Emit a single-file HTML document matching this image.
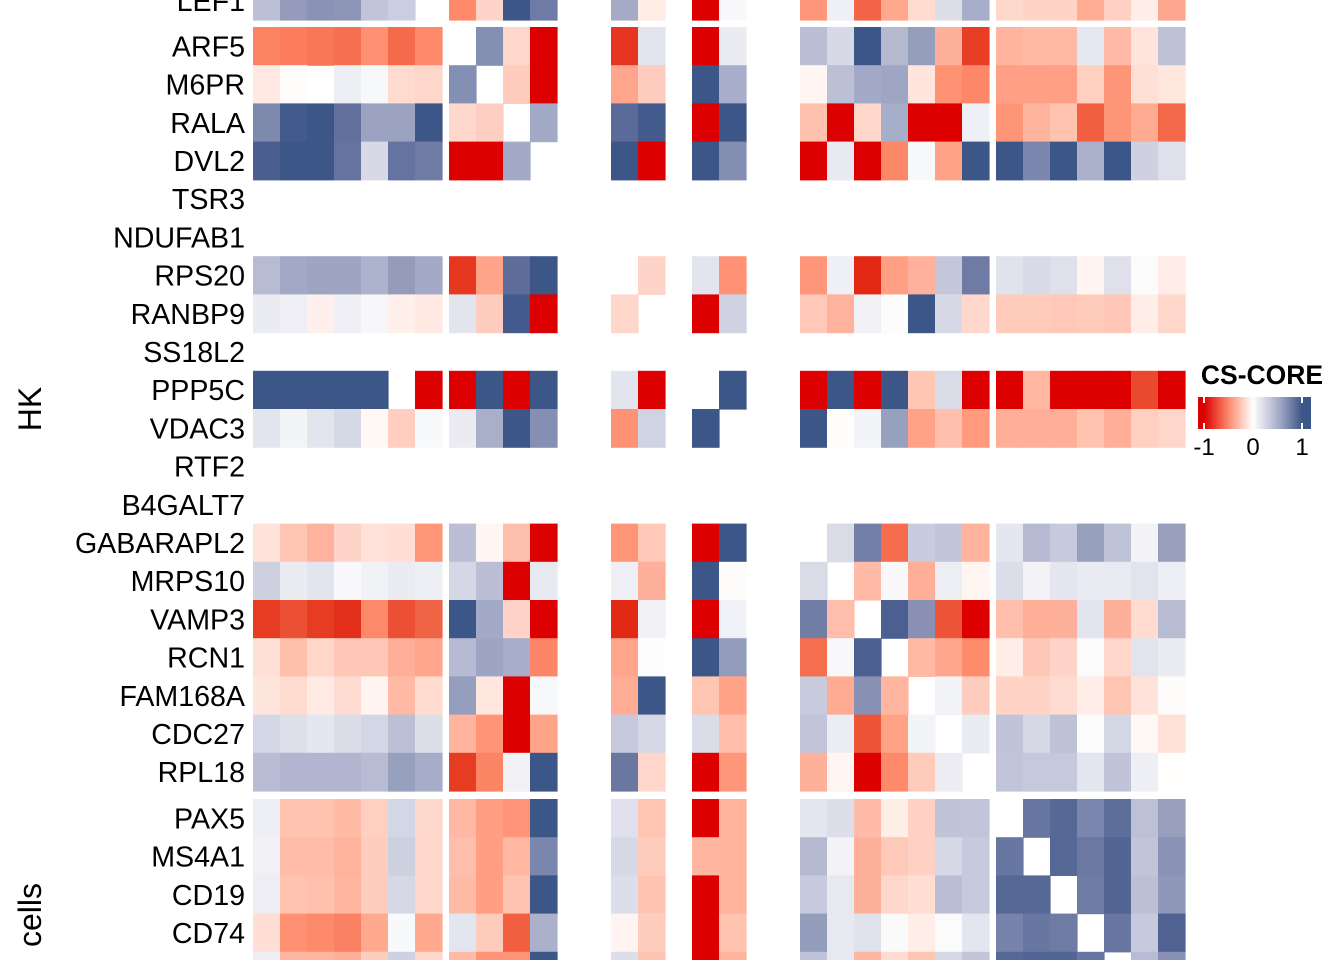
<!DOCTYPE html>
<html><head><meta charset="utf-8"><style>
html,body{margin:0;padding:0;background:#fff;}
svg{display:block;font-family:"Liberation Sans",sans-serif;}
</style></head><body>
<svg id="s" width="1344" height="960" viewBox="0 0 1344 960" xmlns="http://www.w3.org/2000/svg">
<defs><linearGradient id="g" x1="0" x2="1" y1="0" y2="0">
<stop offset="0" stop-color="#dd0000"/><stop offset="0.053" stop-color="#dd0000"/>
<stop offset="0.27" stop-color="#fb8a6c"/>
<stop offset="0.487" stop-color="#ffffff"/>
<stop offset="0.72" stop-color="#a3aac7"/>
<stop offset="0.92" stop-color="#3d5688"/><stop offset="1" stop-color="#3d5688"/>
</linearGradient></defs>
<g id="cells"></g>
<g id="labels" font-size="28.6" text-anchor="end" fill="#000"></g>
<text transform="translate(41,409) rotate(-90)" font-size="32" text-anchor="middle">HK</text>
<text transform="translate(41,915) rotate(-90)" font-size="32" text-anchor="middle">cells</text>
<text x="1262" y="384" font-size="26.5" font-weight="bold" text-anchor="middle">CS-CORE</text>
<rect x="1198" y="397" width="113" height="32" fill="url(#g)"/>
<g stroke="#fff" stroke-width="2"><line x1="1204" y1="397" x2="1204" y2="403"/><line x1="1204" y1="423" x2="1204" y2="429"/><line x1="1302" y1="397" x2="1302" y2="403"/><line x1="1302" y1="423" x2="1302" y2="429"/></g>
<g font-size="24" text-anchor="middle"><text x="1204" y="455">-1</text><text x="1253" y="455">0</text><text x="1302" y="455">1</text></g>
</svg>
<script>
var R="#dd0000",N="#3d5688",W="";
var cols=[];
for(var i=0;i<7;i++)cols.push(253+27*i);
for(i=0;i<4;i++)cols.push(449+27*i);
cols.push(611,638,692,719);
for(i=0;i<7;i++)cols.push(800+27*i);
for(i=0;i<7;i++)cols.push(996+27*i);
var rows=[
["LEF1",-18.2,["#bcc0d6","#959cbb","#8a92b5","#8e96b8","#c2c5da","#cbcde0",W,"#fe8a6a","#fed3c8",N,"#6e7ba4","#a5abc7","#ffece5",R,"#f8f8fa","#ff967a","#eff0f5","#f26547","#ffa88e","#ffdbd0","#dcdee8","#a7aec9","#ffd8cc","#ffd4c7","#ffd3c6","#ffac93","#ffd1c4","#ffeee7","#ffa78e"]],
["ARF5",0,["#fd8463","#fc7d5c","#f97757","#f66f4e","#ff9072","#f46b4b","#fe896a",W,"#838fb3","#ffd6cb",R,"#e63520","#e2e4ee",R,"#ebecf1","#babdd3","#d8d9e6",N,"#b5b9d0","#959eba","#ffb09b","#e83e25","#ffb49e","#ffbba6","#ffb9a5","#e5e8f1","#ffb9a6","#ffe4db","#bdc1d6"]],
["M6PR",1,["#ffe9e2","#fffdfb",W,"#eeeff5","#f7f8fa","#ffdacf","#ffd6ca","#838fb3",W,"#ffccbe",R,"#ffa58d","#ffcdbf",N,"#a7adca","#fff5f2","#bcc0d5","#a3aac7","#9fa6c3","#ffe5dd","#ff9272","#fc8769","#ffa086","#ffa086","#ffa086","#ffcfc0","#ff9578","#ffe0d6","#ffe7de"]],
["RALA",2,["#7e89ae","#425a8c",N,"#62709c","#9aa2c0","#9ba3c1",N,"#ffd8cd","#ffcec2",W,"#a3aac7","#5b6a98","#435a8c",R,N,"#ffc2af",R,"#ffd6ca","#a7aec9",R,R,"#eff0f5","#ff9577","#ffb49e","#ffc3b0","#f25f40","#ff9577","#ffab91","#f36848"]],
["DVL2",3,["#4a5f90",N,N,"#6573a0","#d7d9e6","#6573a0","#707ca5",R,R,"#a3aac7",W,N,R,N,"#848eb3",R,"#e8eaf2",R,"#fd8868","#f7f8fa","#ffa286",N,N,"#7a86ae",N,"#abb0cb",N,"#cfd1e0","#dfe0eb"]],
["TSR3",4,[]],["NDUFAB1",5,[]],
["RPS20",6,["#b7bbd3","#a2a9c6","#9ea5c3","#9ea5c3","#aeb3cd","#949cba","#a3aac7","#e6371f","#ffa48b","#5d6c99",N,W,"#ffd4c8","#e3e5ee","#ff9274","#ff967a","#eff0f5","#e32813","#ffa084","#ffb19d","#c4c6da","#6f7ba4","#e0e2ec","#d9dae7","#dfe0eb","#fff4f1","#dfe0eb","#fbfbfb","#ffece6"]],
["RANBP9",7,["#ebebf2","#efeff5","#fff0ed","#efeff5","#f7f7fa","#fff0ec","#ffe9e2","#e2e4ee","#ffcdbf","#425a8c",R,"#ffd6ca",W,R,"#d0d2e2","#ffc8b8","#ffb29e","#f1f1f5","#fcfcfc",N,"#d7d9e6","#ffd8cd","#ffcbbb","#ffccbc","#ffc8b8","#ffcbbb","#ffc7b7","#ffeee8","#ffd6ca"]],
["SS18L2",8,[]],
["PPP5C",9,[N,N,N,N,N,W,R,R,N,R,N,"#e3e5ee",R,W,N,R,N,R,N,"#ffc6b4","#d9dbe7",R,R,"#ffb7a2",R,R,R,"#ea4930",R]],
["VDAC3",10,["#e2e4ee","#f3f4f8","#e3e5ee","#d5d8e5","#fff8f5","#ffcec0","#f8f9fb","#ebebf1","#a9aec9",N,"#858fb3","#ff9274","#d0d3e2",N,W,N,"#fffdfb","#f3f4f8","#97a0bd","#ffa287","#ffbfac","#ff9a7f","#ffae97","#ffae97","#ffae97","#ffc3b0","#ffae97","#ffd0c2","#ffd6ca"]],
["RTF2",11,[]],["B4GALT7",12,[]],
["GABARAPL2",13,["#ffe3da","#ffc6b4","#ffb29d","#ffd4c8","#ffe1d9","#ffdfd5","#ff9678","#bbbed4","#fff6f3","#fdc0ad",R,"#ff9678","#ffc8b7",R,N,W,"#d9dbe7","#737fa7","#f56d4d","#c9cbde","#c2c5d9","#ffb29c","#e4e7f0","#b6bad2","#c7c9dc","#97a0bd","#bfc3d8","#f3f3f7","#979fbd"]],
["MRPS10",14,["#ced0e0","#ebecf1","#e3e5ee","#f9f9fb","#f1f2f6","#ebecf2","#eeeff5","#d5d7e5","#bbbed4",R,"#e7e9f1","#eff0f5","#ffb09a",N,"#fdfcfa","#d9dbe7",W,"#ffbba7","#f8f8fa","#ffae97","#edeef3","#fff6f2","#dbdde8","#f3f3f7","#e6e6f0","#eaeaf2","#eaeaf2","#e1e3ed","#eeeff5"]],
["VAMP3",15,["#e63d22","#eb5034","#e63d22","#e22f19","#fd896b","#eb5034","#f06446",N,"#a3aac7","#ffd3c7",R,"#e22914","#f1f1f6",R,"#f1f2f7","#717ea6","#ffbeab",W,"#4b5f90","#8990b3","#ec5538",R,"#ffbfac","#ffaf98","#ffb09a","#e2e4ee","#ffb09a","#ffdbd0","#b8bcd3"]],
["RCN1",16,["#ffe0d6","#ffbfab","#ffd6ca","#ffc8b6","#ffc7b6","#ffae97","#ffa68c","#b6bad2","#9ea5c3","#a8aeca","#fe8668","#ffa58b","#fdfdfd",N,"#949cbb","#f56e4e","#f8f8fa","#4b5f90",W,"#ffb9a5","#ffa68c","#fe8b6c","#ffede7","#ffc7b6","#ffd3c7","#fbfbfb","#ffd6ca","#e1e3ed","#ebecf2"]],
["FAM168A",17,["#ffe6dd","#ffdbcf","#ffeae4","#ffdcd1","#fff4f0","#ffb9a4","#ffdbd0","#959ebc","#ffe6df",R,"#f7f8fa","#ffac95",N,"#ffc5b3","#ffa287","#c8cade","#ffab92","#8890b4","#ffb5a0",W,"#f3f4f8","#ffcdbf","#ffd3c6","#ffd3c6","#ffdcd1","#ffeee8","#ffc5b3","#ffe2d9","#fefcfa"]],
["CDC27",18,["#d3d6e4","#dddfeb","#e4e6f0","#dadce8","#d3d6e4","#bcc0d6","#dcdee9","#ffb4a0","#ff9477",R,"#ffa488","#c6c9dc","#d6d8e6","#dadce8","#ffbdaa","#c2c5da","#ececf3","#ee5537","#ffa286","#f3f4f8",W,"#ebecf1","#c1c4d8","#d6d8e5","#bec2d6","#fbfbfb","#d4d7e4","#fff8f5","#ffe1d8"]],
["RPL18",19,["#b9bcd4","#b1b5cf","#b2b5cf","#b1b5cf","#b7bbd3","#97a0bd","#a6adc9","#e63d22","#fb8465","#f1f1f6",N,"#6a77a1","#ffd6ca",R,"#ff967a","#ffb09a","#fff5f2",R,"#fd8a6b","#ffcbbb","#ececf2",W,"#c2c5d9","#c6c9dc","#c6c9dc","#e4e6ef","#c1c4d8","#eeeff5","#fffefd"]],
["PAX5",100,["#eeeff4","#ffc3b0","#ffc3b0","#ffbba6","#ffd0c2","#d3d6e4","#ffd8cc","#ffb8a3","#ff9e82","#ff9478",N,"#dfe0eb","#ffc5b3",R,"#ffb29c","#e5e7f0","#dcdee9","#ffbba7","#ffede7","#ffd0c3","#c0c4d8","#c2c5d9",W,"#6877a1","#566896","#7a86ae","#5d6e9a","#bdc1d6","#979fbd"]],
["MS4A1",101,["#f0f0f5","#ffbca8","#ffbca8","#ffb29c","#ffcdbe","#ccd0df","#ffd6ca","#ffbeab","#ff9e82","#ffb7a2","#7a86ae","#d6d8e6","#ffcdbe","#ffb6a1","#ffb39d","#b5b9d0","#f3f3f7","#ffb09a","#ffc9b9","#ffd1c4","#d6d8e5","#c7cadc","#6877a1",W,"#566896","#6a78a2","#536594","#c2c5d9","#8a92b5"]],
["CD19",102,["#ededf3","#ffc3b0","#ffc1ae","#ffb6a1","#ffcdbe","#d6d8e6","#ffd6ca","#ffbba6","#ff9e82","#ffc4b1",N,"#dcdee9","#ffc4b1",R,"#ffb29c","#c7c9dc","#e8e8f1","#ffb09a","#ffd6ca","#ffdfd4","#bbbfd5","#c7c9dc","#566896","#566896",W,"#6e7ca4","#536594","#bcc0d5","#8f98b8"]],
["CD74",103,["#ffdfd5","#ff9172","#fd8a6b","#fa8163","#ffa98f","#f8f9fb","#ffa98f","#e4e6ef","#ffccbc","#f25f40","#abb0cb","#fff4f1","#ffcdbe",R,"#ffc3b0","#949dbb","#e8e8f1","#e0e2ec","#fafafa","#ffede7","#fbfbfb","#e4e6ef","#7783ab","#6877a1","#6e7ca4",W,"#6877a1","#c7cadc","#4f6291"]],
["",104,["#ededf3","#ffb6a1","#ffb6a1","#ffae97","#ffcdbe","#ced1e0","#ffd6ca","#ffbba6","#ff9477","#ff9478",N,"#dcdee9","#ffc4b1",R,"#ffb29c","#c0c4d8","#e8e8f1","#ffb6a1","#ffdcd1","#ffc5b3","#d6d8e5","#c2c5d9","#566896","#536594","#536594","#6877a1",W,"#b7bbd3","#8890b4"]]
];
var ns="http://www.w3.org/2000/svg",cg=document.getElementById("cells"),lg=document.getElementById("labels");
rows.forEach(function(r){
  var top;
  if(r[1]===-18.2)top=-18.2;
  else if(r[1]>=100)top=799+38.2*(r[1]-100);
  else top=27+38.2*r[1];
  r[2].forEach(function(c,k){
    if(!c)return;
    var e=document.createElementNS(ns,"rect");
    e.setAttribute("x",cols[k]);e.setAttribute("y",top);
    e.setAttribute("width",27.6);e.setAttribute("height",38.8);
    e.setAttribute("fill",c);cg.appendChild(e);
  });
  if(r[0]){
    var t=document.createElementNS(ns,"text");
    t.setAttribute("x",245);t.setAttribute("y",top+19.1+10.3);
    t.textContent=r[0];lg.appendChild(t);
  }
});
</script>
</body></html>
